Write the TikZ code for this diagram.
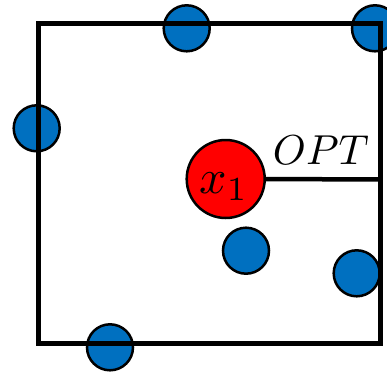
\documentclass[tikz,border=0pt]{standalone}
\begin{document}
\begin{tikzpicture}[x=1bp,y=-1bp,
  pt/.style={circle,draw=black,line width=2.5bp,fill=blueA,minimum size=46bp,inner sep=0pt},
  star/.style={circle,draw=black,line width=2.5bp,fill=red,minimum size=78bp,inner sep=0pt},
  edge/.style={line width=4.5bp},
  lbl/.style={scale=4.2,inner sep=0pt}]
\definecolor{blueA}{HTML}{0070C0}
\useasboundingbox (0,0) rectangle (387,372);
\begin{scope}
\clip (0,0) rectangle (387,372);
\node[pt] (p1) at (186.7,28.3) {};
\node[pt] (p2) at (375,28.3) {};
\node[pt] (p3) at (36.7,128.3) {};
\node[pt] (p4) at (246,250.7) {};
\node[pt] (p5) at (356.7,273.3) {};
\node[pt] (p6) at (110,347.3) {};
\end{scope}
\draw[line width=5bp] (38.3,23.3) rectangle (380,343.3);
\coordinate (r) at (380,179.5);
\node[star] (x1) at (225.7,179) {};
\node[lbl,scale=1.15] (x1lbl) at (224,187) {$x_1$};
\draw[edge] (x1.east) -- (r);
\node[lbl,anchor=base] (opt) at (321,164) {$OPT$};
\end{tikzpicture}
\end{document}
